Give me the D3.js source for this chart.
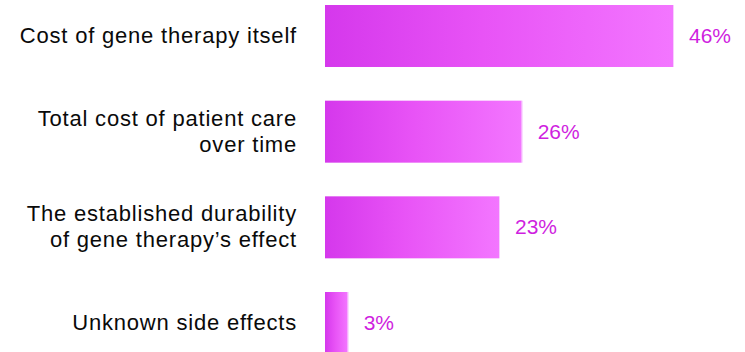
<!DOCTYPE html>
<html>
<head>
<meta charset="utf-8">
<script src="https://cdn.jsdelivr.net/npm/d3@7"></script>
<style>
  html, body { margin: 0; padding: 0; background: #fff; }
  svg { display: block; }
</style>
</head>
<body>
<svg id="chart" width="745" height="352"></svg>
<script>
// Share of respondents citing each factor
const categories = [
  ["Cost of gene therapy itself"],
  ["Total cost of patient care", "over time"],
  ["The established durability", "of gene therapy\u2019s effect"],
  ["Unknown side effects"]
];
const values = [46, 26, 23, 3];
const valueLabels = ["46%", "26%", "23%", "3%"];

const svg = d3.select("#chart");

const ids = categories.map((c, i) => "c" + i);

const x = d3.scaleLinear().domain([0, 46]).range([325, 673]);
const y = d3.scaleBand().domain(ids).range([5, 354]).paddingInner(0.352).paddingOuter(0);

// Horizontal gradient for the bars
const defs = svg.append("defs");
const grad = defs.append("linearGradient")
  .attr("id", "barGrad")
  .attr("x1", "0%").attr("x2", "100%").attr("y1", "0%").attr("y2", "0%");
grad.append("stop").attr("offset", "0%").attr("stop-color", "#d538ec");
grad.append("stop").attr("offset", "45%").attr("stop-color", "#e853f6");
grad.append("stop").attr("offset", "100%").attr("stop-color", "#f376ff");

const rows = svg.selectAll("g.row")
  .data(values.map((v, i) => ({ v, id: ids[i], lines: categories[i], label: valueLabels[i] })))
  .join("g")
  .attr("class", "row");

rows.append("rect")
  .attr("x", x(0))
  .attr("y", d => y(d.id))
  .attr("width", d => x(d.v) - x(0))
  .attr("height", y.bandwidth())
  .attr("fill", "url(#barGrad)");

// thin light edge on the bar end
rows.append("line")
  .attr("x1", d => x(d.v) + 0.5)
  .attr("x2", d => x(d.v) + 0.5)
  .attr("y1", d => y(d.id))
  .attr("y2", d => y(d.id) + y.bandwidth())
  .attr("stroke", "#f8cdff")
  .attr("stroke-width", 1);

rows.append("text")
  .attr("x", d => x(d.v) + 16)
  .attr("y", d => y(d.id) + y.bandwidth() / 2 + 7)
  .attr("fill", "#cf1fe0")
  .style("font-family", "'Liberation Sans', Arial, Helvetica, sans-serif")
  .style("font-size", "21px")
  .text(d => d.label);

const cat = rows.append("text")
  .attr("text-anchor", "end")
  .attr("fill", "#0a0a0a")
  .style("font-family", "'Liberation Sans', Arial, Helvetica, sans-serif")
  .style("font-size", "22px")
  .style("letter-spacing", "0.8px");

cat.each(function (d) {
  const t = d3.select(this);
  const cy = y(d.id) + y.bandwidth() / 2 + 7;
  const n = d.lines.length;
  d.lines.forEach((line, k) => {
    t.append("tspan")
      .attr("x", 297)
      .attr("y", cy + (k - (n - 1) / 2) * 26)
      .text(line);
  });
});
</script>
</body>
</html>
